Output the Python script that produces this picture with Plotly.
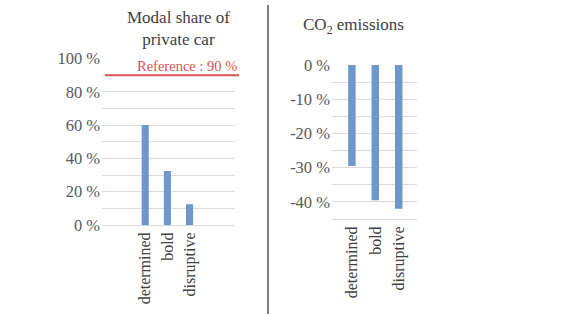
import plotly.graph_objects as go

W, H = 579, 314

categories = ["determined", "bold", "disruptive"]
modal_share = [60, 32.5, 12.5]
co2_change = [-29.5, -39.5, -42]
reference_value = 90
reference_label = "Reference : 90 %"

left_ticks = [0, 20, 40, 60, 80, 100]
left_ticktext = ["0 %", "20 %", "40 %", "60 %", "80 %", "100 %"]
right_ticks = [0, -10, -20, -30, -40]
right_ticktext = ["0 %", "-10 %", "-20 %", "-30 %", "-40 %"]

FONT = "Liberation Serif"
BAR = "#7096cb"
GRID = "#dcdcdc"
RED = "#d9534f"

def px_x(p):
    return p / W

def px_y(p):
    return 1 - p / H

fig = go.Figure()
fig.add_trace(go.Bar(x=categories, y=modal_share, marker_color=BAR, width=0.32,
                     xaxis="x", yaxis="y", showlegend=False))
fig.add_trace(go.Bar(x=categories, y=co2_change, marker_color=BAR, width=0.32,
                     xaxis="x2", yaxis="y2", showlegend=False))

tickfont = dict(family=FONT, size=16.5, color="#595959")
catfont = dict(family=FONT, size=16, color="#404040")

fig.update_layout(
    template="none",
    font=dict(family=FONT, size=16, color="#595959"),
    width=W, height=H, margin=dict(l=0, r=0, t=0, b=0, pad=0, autoexpand=False),
    paper_bgcolor="white", plot_bgcolor="white",
    xaxis=dict(domain=[px_x(102), px_x(235)], range=[-1.95, 4.05], type="category",
               tickangle=-90, tickfont=catfont, showgrid=False, ticks="",
               showline=True, linecolor=GRID, linewidth=1, anchor="y", zeroline=False,
               automargin=False, ticklabelstandoff=0),
    yaxis=dict(domain=[px_y(225), px_y(58.5)], range=[0, 100], anchor="x",
               tickvals=left_ticks, ticktext=left_ticktext, tickfont=tickfont, ticks="",
               showgrid=True, gridcolor=GRID, gridwidth=1, zeroline=False, showline=False,
               minor=dict(dtick=10, tick0=0, showgrid=True, gridcolor=GRID, gridwidth=1, ticks=""),
               automargin=False, ticklabelstandoff=1),
    xaxis2=dict(domain=[px_x(332), px_x(417)], range=[-0.85, 2.78], type="category",
                tickangle=-90, tickfont=catfont, showgrid=False, ticks="",
                showline=True, linecolor=GRID, linewidth=1, anchor="y2", zeroline=False,
                automargin=False, ticklabelstandoff=0),
    yaxis2=dict(domain=[px_y(219), px_y(65)], range=[-45, 0], anchor="x2",
                tickvals=right_ticks, ticktext=right_ticktext, tickfont=tickfont, ticks="",
                showgrid=True, gridcolor=GRID, gridwidth=1, zeroline=False, showline=False,
                minor=dict(dtick=5, tick0=0, showgrid=True, gridcolor=GRID, gridwidth=1, ticks=""),
                automargin=False, ticklabelstandoff=1),
)

# Reference line
fig.add_shape(type="line", xref="paper", yref="y", x0=px_x(105), x1=px_x(239),
              y0=reference_value, y1=reference_value,
              line=dict(color=RED, width=2))
fig.add_annotation(xref="paper", yref="y", x=px_x(239), y=reference_value, text=reference_label,
                   showarrow=False, xanchor="right", yanchor="bottom", yshift=-1,
                   font=dict(family=FONT, size=14.5, color=RED))

# Divider
fig.add_shape(type="line", xref="paper", yref="paper", x0=px_x(268), x1=px_x(268),
              y0=0, y1=px_y(5), line=dict(color="#555555", width=1.5))

# Titles
fig.add_annotation(xref="paper", yref="paper", x=px_x(178), y=px_y(28.5),
                   text="Modal share of<br>private car", showarrow=False,
                   xanchor="center", yanchor="middle",
                   font=dict(family=FONT, size=17, color="#404040"))
fig.add_annotation(xref="paper", yref="paper", x=px_x(353), y=px_y(26),
                   text="CO<sub>2</sub> emissions", showarrow=False,
                   xanchor="center", yanchor="middle",
                   font=dict(family=FONT, size=17, color="#404040"))

fig.write_html("out.html")
